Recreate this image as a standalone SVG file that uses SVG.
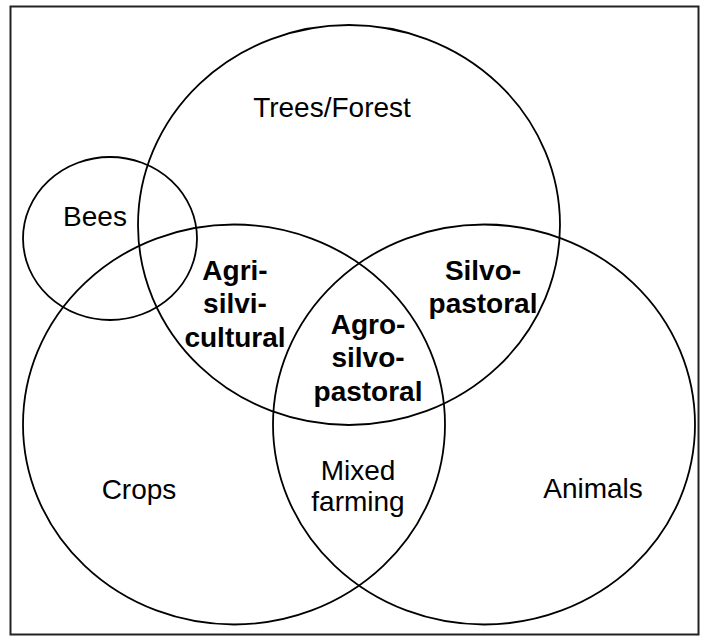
<svg xmlns="http://www.w3.org/2000/svg" width="703" height="639" viewBox="0 0 703 639">
<style>
.c{fill:none;stroke:#000;stroke-width:1.8}
.t{font-family:"Liberation Sans",Arial,sans-serif;font-size:28px;fill:#000;text-anchor:middle}
.b{font-weight:bold}
</style>
<rect x="0" y="0" width="703" height="639" fill="#fff"/>
<rect id="frame" x="10.5" y="6.5" width="688" height="628" fill="none" stroke="#222" stroke-width="2"/>
<g id="trees"><ellipse class="c" cx="349" cy="225" rx="211" ry="200"/><text class="t" x="332" y="117">Trees/Forest</text></g>
<g id="crops"><ellipse class="c" cx="234" cy="424.5" rx="211" ry="200"/><text class="t" x="139" y="499">Crops</text></g>
<g id="animals"><ellipse class="c" cx="484" cy="424.5" rx="211" ry="200"/><text class="t" x="593" y="498">Animals</text></g>
<g id="bees"><ellipse class="c" cx="110" cy="238.5" rx="87" ry="81.5"/><text class="t" x="95" y="226">Bees</text></g>
<g id="agrisilvicultural"><text class="t b" x="235" y="280">Agri-</text><text class="t b" x="235" y="313">silvi-</text><text class="t b" x="235" y="347">cultural</text></g>
<g id="silvopastoral"><text class="t b" x="483" y="280">Silvo-</text><text class="t b" x="483" y="313">pastoral</text></g>
<g id="agrosilvopastoral"><text class="t b" x="368" y="334">Agro-</text><text class="t b" x="368" y="367">silvo-</text><text class="t b" x="368" y="401">pastoral</text></g>
<g id="mixed"><text class="t" x="358" y="480">Mixed</text><text class="t" x="358" y="511">farming</text></g>
<g id="connectors"></g>
</svg>
